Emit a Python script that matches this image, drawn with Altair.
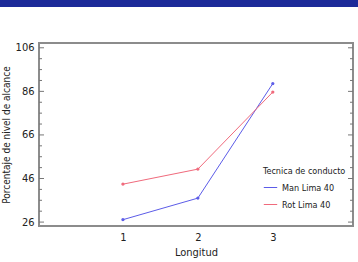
import altair as alt
import pandas as pd

longitud = [1, 2, 3]
man_lima = [27.1, 37.0, 89.6]
rot_lima = [43.4, 50.3, 85.7]
series_names = ["Man Lima 40", "Rot Lima 40"]
major_ticks = [26, 46, 66, 86, 106]
minor_ticks = [31, 36, 41, 51, 56, 61, 71, 76, 81, 91, 96, 101]

W, H = 314, 183
FONT = "DejaVu Sans Condensed"

rows = []
for x, v in zip(longitud, man_lima):
    rows.append({"Longitud": x, "valor": v, "serie": series_names[0]})
for x, v in zip(longitud, rot_lima):
    rows.append({"Longitud": x, "valor": v, "serie": series_names[1]})
df = pd.DataFrame(rows)

xs = alt.Scale(domain=[-0.12, 4.07], nice=False, zero=False)
ys = alt.Scale(domain=[24.2, 108.2], nice=False, zero=False)
colors = alt.Scale(domain=series_names, range=["#5c5ce8", "#f06a7c"])

base = alt.Chart(df)

lines = base.mark_line(strokeWidth=1, clip=False).encode(
    x=alt.X("Longitud:Q", scale=xs,
            axis=alt.Axis(values=longitud, ticks=False, domain=False, grid=False,
                          labelPadding=5, title="Longitud", titlePadding=4,
                          format="d")),
    y=alt.Y("valor:Q", scale=ys,
            axis=alt.Axis(values=major_ticks, ticks=False, domain=False, grid=False,
                          labelPadding=5, title="Porcentaje de nivel de alcance",
                          titlePadding=4, titleFontSize=10)),
    color=alt.Color("serie:N", scale=colors,
                    legend=alt.Legend(title="Tecnica de conducto", orient="none",
                                      legendX=224, legendY=124, symbolType="stroke",
                                      symbolStrokeWidth=1, symbolSize=180,
                                      titleFontWeight="normal", titleFontSize=9,
                                      labelFontSize=9, titleFont=FONT, labelFont=FONT,
                                      titleColor="#222", labelColor="#222",
                                      rowPadding=4, titlePadding=4, labelOffset=4)),
)
points = base.mark_point(filled=False, size=3, strokeWidth=1.5, opacity=1).encode(
    x=alt.X("Longitud:Q", scale=xs),
    y=alt.Y("valor:Q", scale=ys),
    color=alt.Color("serie:N", scale=colors),
)

tick_df_major = pd.DataFrame({"t": major_ticks})
tick_df_minor = pd.DataFrame({"t": minor_ticks})

def ticks(data, length, left=True):
    x1 = 0 if left else W - length
    return alt.Chart(data).mark_rule(color="#777", strokeWidth=1).encode(
        y=alt.Y("t:Q", scale=ys),
        x=alt.value(x1), x2=alt.value(x1 + length))

banner = alt.Chart(pd.DataFrame({"a": [0]})).mark_rect(color="#1c2a99", clip=False).encode(
    x=alt.value(-39), x2=alt.value(W + 5), y=alt.value(-43), y2=alt.value(-36))

chart = alt.layer(
    ticks(tick_df_major, 5), ticks(tick_df_minor, 3),
    ticks(tick_df_major, 5, False), ticks(tick_df_minor, 3, False),
    lines, points, banner,
).properties(
    width=W, height=H,
    background="white",
    autosize=alt.AutoSizeParams(type="none"),
    padding={"left": 39, "top": 43, "right": 5, "bottom": 36},
).configure_view(
    stroke="#8c8c8c", strokeWidth=2
).configure_axis(
    labelFont=FONT, titleFont=FONT, labelFontSize=11, titleFontSize=11,
    labelColor="#222", titleColor="#222", titleFontWeight="normal"
)

chart.save("out.html", embed_options={"renderer": "svg", "actions": False})
